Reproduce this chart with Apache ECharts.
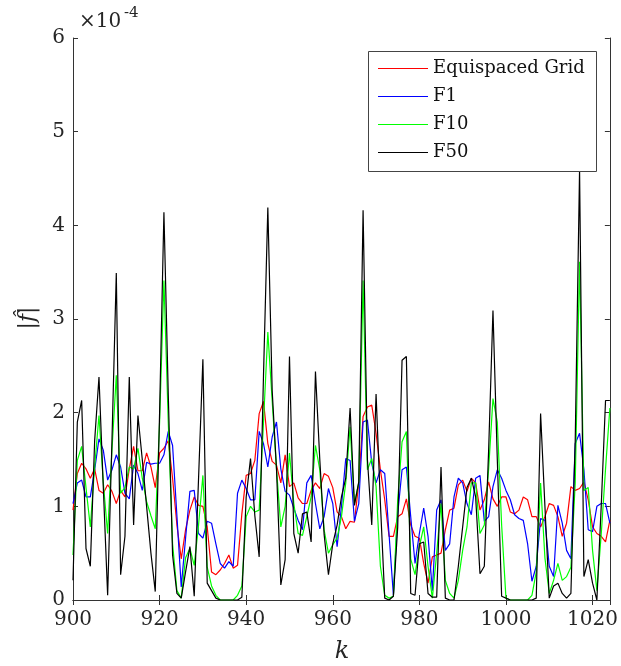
<!DOCTYPE html>
<html>
<head>
<meta charset="utf-8">
<script src="https://cdn.jsdelivr.net/npm/echarts@6/dist/echarts.min.js"></script>
<style>html,body{margin:0;padding:0;background:#fff;}#c{width:621px;height:666px;}</style>
</head>
<body>
<div id="c"></div>
<script>
// k values 900..1024
const kStart = 900;
// |f_hat| values in units of 1e-4
const equispaced = [0.96,1.35,1.46,1.40,1.30,1.40,1.17,1.14,1.23,1.16,1.03,1.17,1.10,1.40,1.64,1.38,1.38,1.57,1.42,1.20,
1.57,1.62,1.70,1.30,0.80,0.44,0.75,0.96,1.10,1.01,1.00,0.78,0.30,0.27,0.32,0.39,0.48,0.34,0.37,0.92,
1.33,1.35,1.49,1.99,2.12,1.67,1.48,1.44,1.25,1.55,1.21,1.25,1.09,1.03,1.03,1.17,1.25,1.19,1.35,1.32,
1.20,0.94,0.89,0.76,0.84,0.83,1.25,1.96,2.06,2.08,1.78,1.39,1.07,0.68,0.68,0.89,0.92,1.08,0.80,0.68,
0.66,0.39,0.18,0.46,0.48,0.50,0.75,0.96,0.98,1.23,1.28,1.16,1.30,1.25,0.96,1.07,1.26,1.08,1.00,1.10,
1.10,0.94,0.92,0.96,1.10,1.07,0.89,0.89,0.78,0.89,1.03,1.01,0.89,0.68,0.82,1.21,1.17,1.19,1.26,1.07,
0.78,0.71,0.68,0.62,0.85];
const f1 = [1.03,1.25,1.28,1.10,1.10,1.39,1.72,1.60,1.28,1.39,1.55,1.42,1.14,1.08,1.44,1.35,1.17,1.47,1.45,1.46,
1.46,1.55,1.80,1.65,0.90,0.14,0.66,1.16,1.17,0.71,0.66,0.84,0.82,0.60,0.39,0.34,0.41,0.36,1.14,1.28,
1.19,1.07,1.07,1.80,1.67,1.42,1.74,1.90,1.40,1.16,1.12,0.98,0.85,0.75,1.25,1.33,1.03,0.76,0.89,1.19,
1.03,0.57,1.00,1.51,1.49,0.84,1.03,1.90,1.92,1.46,1.25,1.39,1.35,0.70,0.05,0.92,1.39,1.42,0.89,0.39,
0.71,0.98,0.68,0.10,0.96,1.07,0.53,0.60,1.10,1.30,1.25,1.03,0.91,1.30,1.33,0.84,0.89,1.21,1.39,1.30,
1.17,1.07,0.91,0.87,0.85,0.60,0.20,0.36,0.87,0.85,0.36,0.25,1.01,0.82,0.53,0.44,1.67,1.78,1.39,0.75,
0.73,1.00,1.03,1.03,0.82];
const f10 = [0.48,1.49,1.64,1.20,0.78,1.42,1.97,1.25,0.71,1.60,2.40,1.14,1.20,1.42,1.40,1.62,1.30,1.05,0.90,0.76,
1.90,3.41,1.90,0.60,0.10,0.02,0.45,0.55,0.37,0.80,1.33,0.35,0.15,0.05,0.00,0.00,0.00,0.00,0.05,0.15,
0.89,1.00,0.94,0.96,1.90,2.86,2.13,1.40,0.78,1.00,1.57,1.03,0.71,0.69,0.89,1.10,1.65,1.39,0.75,0.50,
0.59,0.66,0.89,1.25,1.85,1.03,1.25,3.41,1.39,1.51,1.21,0.36,0.05,0.02,0.04,1.07,1.69,1.80,0.44,0.27,
0.57,0.78,0.36,0.02,0.50,1.03,0.21,0.07,0.02,0.21,0.53,0.78,1.25,1.25,0.71,0.80,1.40,2.15,1.90,0.80,
0.02,0.00,0.00,0.00,0.00,0.00,0.05,0.30,1.25,0.45,0.07,0.21,0.39,0.21,0.25,0.35,1.25,3.61,1.17,1.20,
0.53,0.10,0.70,1.40,2.05];
const f50 = [0.21,1.90,2.13,0.55,0.36,1.70,2.38,1.20,0.05,1.70,3.49,0.27,0.68,2.38,0.80,1.97,1.50,1.00,0.50,0.09,
2.00,4.14,2.20,0.48,0.07,0.02,0.30,0.57,0.04,1.30,2.57,0.18,0.10,0.02,0.00,0.00,0.00,0.00,0.00,0.03,
1.10,1.51,0.90,0.46,2.40,4.19,2.24,1.40,0.16,0.43,2.60,0.71,0.50,0.92,0.94,0.62,2.44,1.50,0.70,0.27,
0.60,0.80,1.10,1.30,2.05,1.01,1.26,4.16,1.50,0.80,2.20,1.03,0.02,0.00,0.04,0.78,2.56,2.60,0.07,0.05,
0.60,0.62,0.07,0.03,0.03,1.42,0.02,0.00,0.00,0.36,0.78,1.20,1.30,1.10,0.28,0.36,1.60,3.09,1.50,0.04,
0.02,0.00,0.00,0.00,0.00,0.00,0.00,0.02,1.99,1.00,0.02,0.15,0.18,0.07,0.02,0.07,1.70,4.59,0.25,0.43,
0.18,0.00,1.00,2.13,2.13];
const seriesNames = ['Equispaced Grid','F1','F10','F50'];
const seriesColors = ['#ff0000','#0000ff','#00ff00','#000000'];
const xTicks = [900,920,940,960,980,1000,1020];
const yTicks = [0,1,2,3,4,5,6];

function pairs(arr){ return arr.map((v,i)=>[kStart+i, v]); }
const allData = [equispaced, f1, f10, f50];

const FONT = 'DejaVu Serif';
const axisCol = '#333333';
const chart = echarts.init(document.getElementById('c'), null, {renderer:'canvas'});
const baseX = {
  type:'value', min:900, max:1024, interval:20,
  axisLine:{show:true, lineStyle:{color:axisCol, width:1}},
  axisTick:{show:true, inside:true, length:5, lineStyle:{color:axisCol}},
  splitLine:{show:false}
};
const baseY = {
  type:'value', min:0, max:6, interval:1,
  axisLine:{show:true, lineStyle:{color:axisCol, width:1}},
  axisTick:{show:true, inside:true, length:5, lineStyle:{color:axisCol}},
  splitLine:{show:false}
};

// legend drawn as graphic elements (box, line samples, labels)
const legendGraphics = [
  {type:'rect', z:50, shape:{x:368.5, y:51.5, width:228, height:120},
    style:{fill:'#ffffff', stroke:'#444444', lineWidth:1}}
];
seriesNames.forEach((n,i)=>{
  const y = 68 + i*28;
  legendGraphics.push({type:'line', z:51, shape:{x1:378, y1:y+0.5, x2:428, y2:y+0.5},
    style:{stroke:seriesColors[i], lineWidth:1.2}});
  legendGraphics.push({type:'text', z:51, x:433, y:y,
    style:{text:n, font:'18px "DejaVu Serif"', fill:'#111', textVerticalAlign:'middle', textAlign:'left'}});
});

chart.setOption({
  animation:false,
  backgroundColor:'#ffffff',
  grid:{left:73, right:9, top:38, bottom:66, containLabel:false},
  xAxis:[
    Object.assign({}, baseX, {position:'bottom',
      axisLabel:{show:true, fontSize:20, fontFamily:FONT, color:'#262626', margin:10,
        formatter:function(v){ return xTicks.indexOf(v) >= 0 ? String(v) : ''; }}}),
    Object.assign({}, baseX, {position:'top', axisLabel:{show:false}})
  ],
  yAxis:[
    Object.assign({}, baseY, {position:'left',
      axisLabel:{show:true, fontSize:20, fontFamily:FONT, color:'#262626', margin:8,
        formatter:function(v){ return yTicks.indexOf(v) >= 0 ? String(v) : ''; }}}),
    Object.assign({}, baseY, {position:'right', axisLabel:{show:false}})
  ],
  graphic: legendGraphics.concat([
    {type:'text', x:79, y:12, z:10, style:{text:'×10', font:'20px "DejaVu Serif"', fill:'#262626'}},
    {type:'text', x:124, y:6, z:10, style:{text:'-4', font:'15px "DejaVu Serif"', fill:'#262626'}},
    {type:'text', x:342, y:652, z:10, style:{text:'k', font:'italic 24px "DejaVu Serif"', fill:'#262626', textAlign:'center', textVerticalAlign:'middle'}},
    {type:'text', x:28, y:318, rotation:Math.PI/2, z:10,
      style:{text:'|f̂|', font:'italic 22px "DejaVu Serif"', fill:'#262626', textAlign:'center', textVerticalAlign:'middle'}}
  ]),
  series: allData.map((d,i)=>({
    name: seriesNames[i], type:'line', data: pairs(d),
    xAxisIndex:0, yAxisIndex:0,
    symbol:'none', showSymbol:false, clip:true,
    lineStyle:{color:seriesColors[i], width:1.2},
    itemStyle:{color:seriesColors[i]},
    z:2
  }))
});
</script>
</body>
</html>
